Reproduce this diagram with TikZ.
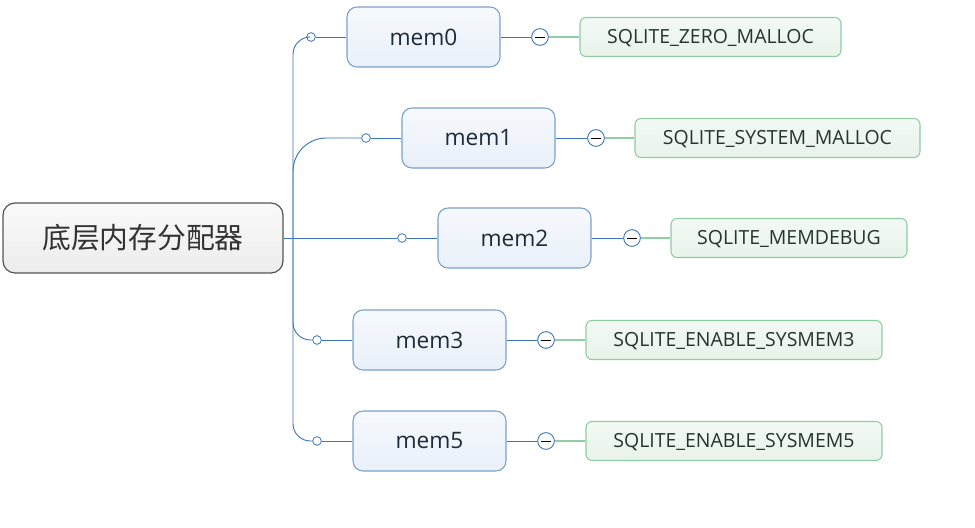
\documentclass[tikz,border=0pt]{standalone}
\usepackage{fontspec}
\setmainfont{Open Sans}
\newfontfamily\cjkfont{Noto Sans CJK SC}
\definecolor{conn}{HTML}{3C74B8}
\definecolor{memborder}{HTML}{7AA0CC}
\definecolor{memtop}{HTML}{F6F9FD}
\definecolor{membot}{HTML}{E9F0F9}
\definecolor{grborder}{HTML}{8FCCA2}
\definecolor{grtop}{HTML}{F3F9F4}
\definecolor{grbot}{HTML}{E8F3EA}
\definecolor{grline}{HTML}{93CFA4}
\definecolor{rootborder}{HTML}{555555}
\definecolor{roottop}{HTML}{FAFAFA}
\definecolor{rootbot}{HTML}{ECECEC}
\definecolor{memtext}{HTML}{1E2B38}
\definecolor{grtext}{HTML}{25352C}
\begin{document}
\begin{tikzpicture}[x=0.75pt,y=-0.75pt,
  rootbox/.style={draw=rootborder,line width=0.9pt,rounded corners=9pt,top color=roottop,bottom color=rootbot,
    minimum width=210pt,minimum height=52.5pt,inner sep=0pt,font=\cjkfont\fontsize{21.6}{25}\selectfont,text=black!80},
  membox/.style={draw=memborder,line width=0.8pt,rounded corners=7.5pt,top color=memtop,bottom color=membot,
    minimum width=114.75pt,minimum height=45pt,inner sep=0pt,font=\fontsize{17}{20}\selectfont,text=memtext},
  grbox/.style={draw=grborder,line width=0.8pt,rounded corners=4.5pt,top color=grtop,bottom color=grbot,
    minimum height=29.25pt,inner sep=0pt,text height=10.4pt,text depth=0pt,font=\fontsize{14.6}{17}\selectfont,text=grtext},
  knob/.style={circle,draw=conn,fill=white,line width=0.6pt,minimum size=6.5pt,inner sep=0pt},
  minus/.style={circle,draw=conn,fill=white,line width=0.7pt,minimum size=12.5pt,inner sep=0pt,
    path picture={\draw[black,line width=0.7pt]([xshift=-3.5pt]path picture bounding box.center)--([xshift=3.5pt]path picture bounding box.center);}},
  bline/.style={draw=conn,line width=0.7pt},
  gline/.style={draw=grline,line width=0.8pt}]
\useasboundingbox (0,0) rectangle (975,528);

% trunk coordinate
\coordinate (t) at (293,238);

% nodes
\node[rootbox] (root) at (143,238) {底层内存分配器};

\node[membox] (mem0) at (423.5,37) {mem0};
\node[membox] (mem1) at (478.5,138) {mem1};
\node[membox] (mem2) at (514.5,238) {mem2};
\node[membox] (mem3) at (429.5,340) {mem3};
\node[membox] (mem5) at (429.5,441) {mem5};

\node[knob] (s0) at (311,37) {};
\node[knob] (s1) at (366,138) {};
\node[knob] (s2) at (402,238) {};
\node[knob] (s3) at (317,340) {};
\node[knob] (s5) at (317,441) {};

\node[grbox,minimum width=195.75pt] (g0) at (710.5,37) {SQLITE\_ZERO\_MALLOC};
\node[grbox,minimum width=213.75pt] (g1) at (777.5,138) {SQLITE\_SYSTEM\_MALLOC};
\node[grbox,minimum width=177pt] (g2) at (789,238) {SQLITE\_MEMDEBUG};
\node[grbox,minimum width=222pt] (g3) at (734,340) {SQLITE\_ENABLE\_SYSMEM3};
\node[grbox,minimum width=222pt] (g5) at (734,441) {SQLITE\_ENABLE\_SYSMEM5};

% connectors root -> knobs
\draw[bline] (root.east) -- (s2.west);
\draw[bline,rounded corners=13pt] (t) |- (s0.west);
\draw[bline,rounded corners=25pt] (t) |- (s1.west);
\draw[bline,rounded corners=13pt] (t) |- (s3.west);
\draw[bline,rounded corners=13pt] (t) |- (s5.west);

% knobs -> mem
\draw[bline] (s0.east) -- (mem0.west);
\draw[bline] (s1.east) -- (mem1.west);
\draw[bline] (s2.east) -- (mem2.west);
\draw[bline] (s3.east) -- (mem3.west);
\draw[bline] (s5.east) -- (mem5.west);

% minus circles
\node[minus] (m0) at (540,37) {};
\node[minus] (m1) at (596,138) {};
\node[minus] (m2) at (632,238) {};
\node[minus] (m3) at (546,340) {};
\node[minus] (m5) at (546,441) {};

\draw[bline] (mem0.east) -- (m0.west);
\draw[bline] (mem1.east) -- (m1.west);
\draw[bline] (mem2.east) -- (m2.west);
\draw[bline] (mem3.east) -- (m3.west);
\draw[bline] (mem5.east) -- (m5.west);

\draw[gline] (m0.east) -- (g0.west);
\draw[gline] (m1.east) -- (g1.west);
\draw[gline] (m2.east) -- (g2.west);
\draw[gline] (m3.east) -- (g3.west);
\draw[gline] (m5.east) -- (g5.west);
\end{tikzpicture}
\end{document}
